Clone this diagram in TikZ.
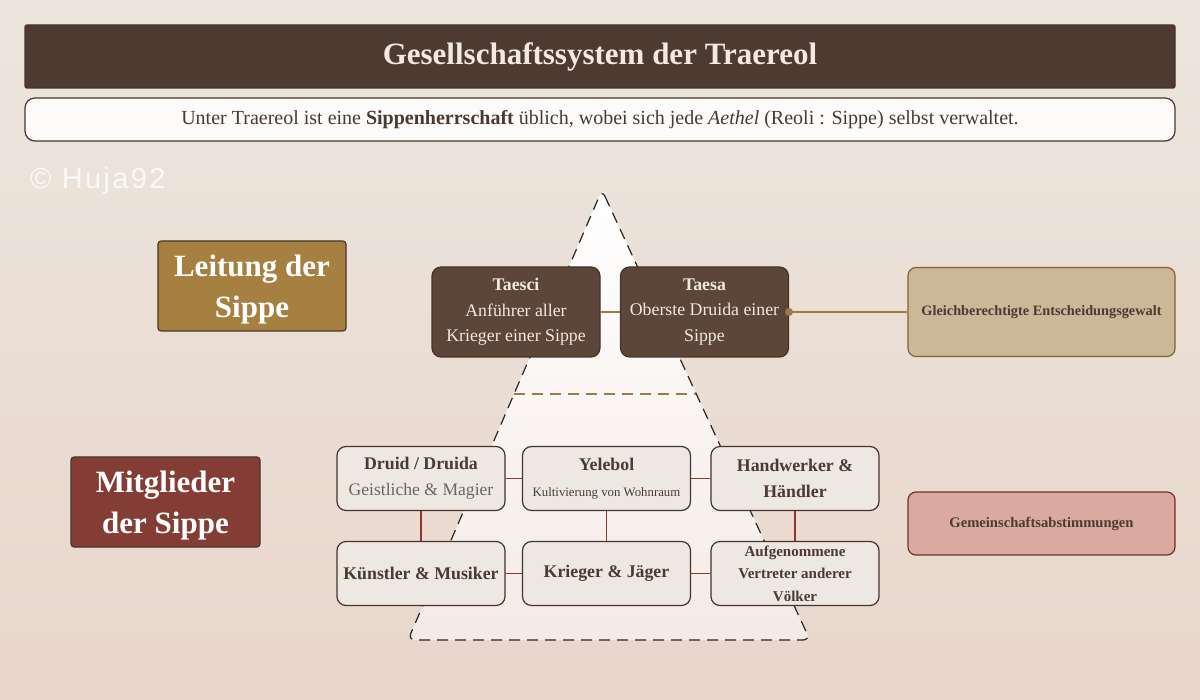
\documentclass[tikz,border=0pt]{standalone}
\usepackage{fontspec}
\setmainfont{Liberation Serif}
\newfontfamily\handfont[LetterSpace=8]{Liberation Sans}
\usetikzlibrary{calc}
\definecolor{bgtop}{RGB}{236,230,221}
\definecolor{bgbot}{RGB}{233,214,204}
\definecolor{titlebar}{RGB}{77,58,49}
\definecolor{titletext}{RGB}{243,233,224}
\definecolor{inkline}{RGB}{70,52,42}
\definecolor{darkbox}{RGB}{91,70,57}
\definecolor{leitfill}{RGB}{166,128,64}
\definecolor{mitfill}{RGB}{132,61,53}
\definecolor{gleichfill}{RGB}{204,184,152}
\definecolor{gemfill}{RGB}{218,170,160}
\definecolor{gemline}{RGB}{110,50,44}
\definecolor{goldline}{RGB}{158,122,70}
\definecolor{redline}{RGB}{140,58,48}
\definecolor{boxtext}{RGB}{74,58,48}
\definecolor{subtext}{RGB}{110,100,92}
\definecolor{memfill}{RGB}{238,232,227}
\begin{document}
\begin{tikzpicture}[x=1pt,y=-1pt,
  lbl/.style={draw=inkline, line width=1.1pt, rounded corners=3pt, inner sep=0pt},
  lbltext/.style={inner sep=0pt, align=center, text=white, font=\fontsize{31}{41}\selectfont\bfseries},
  leadbox/.style={draw=inkline, line width=1.2pt, fill=darkbox, rounded corners=9pt, inner sep=0pt,
    align=center, text=titletext, minimum width=168pt, minimum height=90pt,
    font=\fontsize{17.8}{25.5}\selectfont},
  membox/.style={draw=inkline, line width=1.2pt, fill=memfill,
    rounded corners=9pt, inner sep=0pt, align=center, text=boxtext,
    minimum width=168pt, minimum height=64pt, font=\fontsize{17.8}{26}\selectfont\bfseries},
  sidebox/.style={line width=1.2pt, rounded corners=8pt, inner sep=0pt, align=center, text=boxtext,
    minimum width=267pt, font=\fontsize{14.3}{16}\selectfont\bfseries},
  goldconn/.style={draw=goldline, line width=1.3pt},
  redconn/.style={draw=redline, line width=1.1pt}]
\useasboundingbox (0,0) rectangle (1200,700);
% background
\shade[top color=bgtop, bottom color=bgbot] (0,0) rectangle (1200,700);
% title bar
\node[draw=inkline, fill=titlebar, line width=1.2pt, minimum width=1150pt, minimum height=63pt,
  inner sep=0pt, rounded corners=2pt, text=titletext, font=\fontsize{31}{34}\selectfont\bfseries] (title) at (600,56.5)
  {Gesellschaftssystem der Traereol};
% subtitle
\node[draw=inkline, fill=white!85!bgtop, line width=1.2pt, rounded corners=10pt, minimum width=1150pt,
  minimum height=43pt, inner sep=0pt, text=boxtext, font=\fontsize{20}{24}\selectfont] (sub) at (600,119.5)
  {Unter Traereol ist eine \textbf{Sippenherrschaft} üblich, wobei sich jede \textit{Aethel} (Reoli : Sippe) selbst verwaltet.};
% watermark
\node[anchor=west, inner sep=0pt, text=white, opacity=0.8, font=\handfont\fontsize{29}{32}\selectfont] (wm) at (30,181) {© Huja92};
% pyramid
\coordinate (apex) at (602,190);
\coordinate (bl) at (408,640);
\coordinate (br) at (810,640);
\shadedraw[top color=white, bottom color=white!50!bgbot, draw=black!85, line width=1.2pt,
  dash pattern=on 11pt off 7pt, rounded corners=7pt] (apex) -- (br) -- (bl) -- cycle;
\coordinate (ml) at ($(apex)!0.453!(bl)$);
\coordinate (mr) at ($(apex)!0.453!(br)$);
\draw[goldline, line width=1.3pt, dash pattern=on 11pt off 7pt] (ml) -- (mr);
% category labels
\node[lbl, fill=leitfill, minimum width=188pt, minimum height=90pt] (leit) at (252,286) {};
\node[lbltext] (leittext) at ($(leit.center)+(0,4)$) {Leitung der\\Sippe};
\node[lbl, fill=mitfill, minimum width=189pt, minimum height=90pt] (mit) at (165.5,502) {};
\node[lbltext] (mittext) at ($(mit.center)+(0,4)$) {Mitglieder\\der Sippe};
% leaders
\node[leadbox] (taesci) at (516,312) {\textbf{Taesci}\\Anführer aller\\Krieger einer Sippe};
\node[leadbox] (taesa) at (704.5,312) {\textbf{Taesa}\\Oberste Druida einer\\Sippe};
\node[sidebox, draw=goldline!80!black, fill=gleichfill, minimum height=89pt] (gleich) at (1041.5,312)
  {Gleichberechtigte Entscheidungsgewalt};
\node[sidebox, draw=gemline, fill=gemfill, minimum height=63pt, font=\fontsize{14.6}{16}\selectfont\bfseries] (gem) at (1041.5,523.5)
  {Gemeinschaftsabstimmungen};
\draw[goldconn] (taesci) -- (taesa);
\draw[goldconn] (taesa.east) -- (gleich.west);
\fill[goldline] (taesa.east) circle (4pt);
% members
\node[membox] (druid) at (421,478.5) {Druid / Druida\\{\mdseries\color{subtext}\fontsize{17.6}{26}\selectfont Geistliche \& Magier}};
\node[membox] (yele) at (606.5,478.5) {Yelebol\\{\mdseries\fontsize{12.8}{15}\selectfont Kultivierung von Wohnraum}};
\node[membox] (hand) at (795,478.5) {Handwerker \&\\Händler};
\node[membox] (kuen) at (421,573.5) {Künstler \& Musiker};
\node[membox] (krieg) at (606.5,573.5) {Krieger \& Jäger};
\node[membox, font=\fontsize{15}{22.5}\selectfont\bfseries] (aufg) at (795,573.5) {Aufgenommene\\Vertreter anderer\\Völker};
\draw[redconn] (druid) -- (yele);
\draw[redconn] (yele) -- (hand);
\draw[redconn] (druid) -- (kuen);
\draw[redconn] (yele) -- (krieg);
\draw[redconn] (hand) -- (aufg);
\draw[redconn] (kuen) -- (krieg);
\draw[redconn] (krieg) -- (aufg);
\end{tikzpicture}
\end{document}
